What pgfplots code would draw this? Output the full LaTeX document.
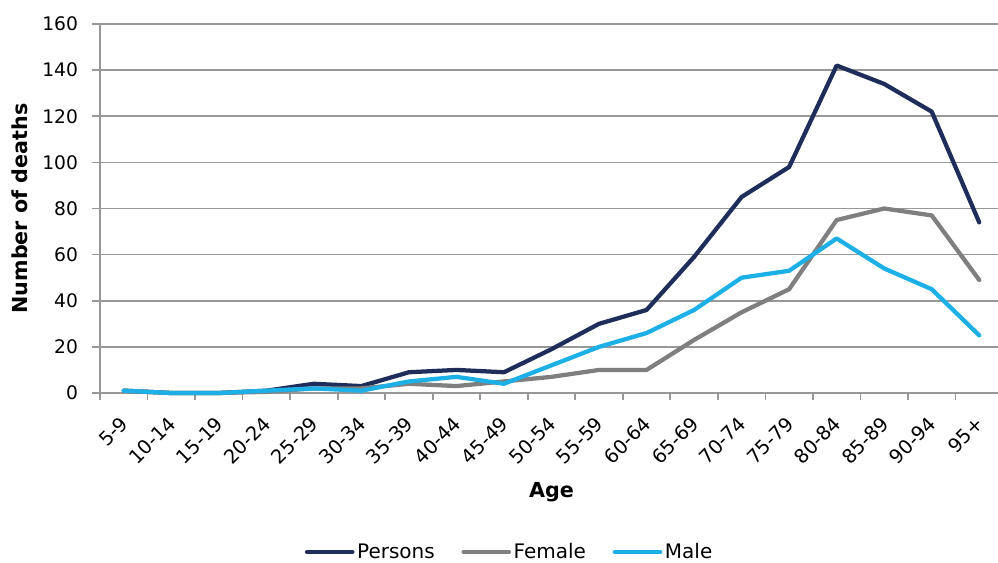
\documentclass[border=0pt]{standalone}
\usepackage{fontspec}
\setmainfont{DejaVu Sans}
\usepackage{pgfplots}
\pgfplotsset{compat=1.18}
\definecolor{persons}{HTML}{1F2D5B}
\definecolor{female}{HTML}{7F7F7F}
\definecolor{male}{HTML}{1CB0E6}
\definecolor{gridc}{HTML}{989898}
\begin{document}
\begin{tikzpicture}[x=1pt,y=1pt]
\begin{axis}[
    scale only axis,
    width=677.25pt, height=276.75pt,
    xmin=-0.5, xmax=18.5,
    ymin=0, ymax=160,
    clip=false,
    axis lines*=left,
    axis line style={draw=gridc, line width=1.3pt},
    ymajorgrids,
    grid style={draw=gridc, line width=1.3pt},
    tick align=outside,
    tick style={draw=gridc, line width=1.3pt},
    major tick length=6pt,
    minor tick length=5.25pt,
    /pgf/number format/assume math mode=true,
    xtick={0,...,18},
    xticklabels={5-9,10-14,15-19,20-24,25-29,30-34,35-39,40-44,45-49,50-54,55-59,60-64,65-69,70-74,75-79,80-84,85-89,90-94,95+},
    major x tick style={draw=none},
    minor xtick={-0.5,0.5,...,18.5},
    ytick={0,20,...,160},
    ticklabel style={font=\fontsize{14pt}{16pt}\selectfont, text=black},
    yticklabel style={xshift=-7pt},
    xticklabel style={font=\fontsize{14.5pt}{16pt}\selectfont, xshift=3pt, yshift=-12pt, rotate=45, anchor=east},
    xlabel={Age},
    ylabel={Number of deaths},
    label style={font=\fontsize{15.5pt}{18pt}\selectfont\bfseries},
    xlabel style={at={([yshift=-74.25pt]axis description cs:0.5,0)}, anchor=center},
    ylabel style={at={([xshift=-60pt]axis description cs:0,0.5)}, anchor=center},
    legend style={at={(0.454,-0.4309)}, anchor=center, draw=none, fill=none,
        font=\fontsize{15pt}{17pt}\selectfont, legend columns=-1,
        /tikz/every even column/.append style={column sep=18pt},
        /tikz/every odd column/.append style={column sep=0pt}},
    legend image code/.code={\draw[#1, line cap=round] (0pt,0pt) -- (34pt,0pt);},
    every axis plot/.append style={line width=3.2pt, line join=round, line cap=round},
]
\addplot[persons] coordinates {
(0,1) (1,0) (2,0) (3,1) (4,4) (5,3) (6,9) (7,10) (8,9) (9,19)
(10,30) (11,36) (12,59) (13,85) (14,98) (15,142) (16,134) (17,122) (18,74)};
\addplot[female] coordinates {
(0,1) (1,0) (2,0) (3,0.5) (4,2) (5,2) (6,4) (7,3) (8,5) (9,7)
(10,10) (11,10) (12,23) (13,35) (14,45) (15,75) (16,80) (17,77) (18,49)};
\addplot[male] coordinates {
(0,1) (1,0) (2,0) (3,1) (4,2) (5,1) (6,5) (7,7) (8,4) (9,12)
(10,20) (11,26) (12,36) (13,50) (14,53) (15,67) (16,54) (17,45) (18,25)};
\legend{Persons, Female, Male}
\end{axis}
\pgfresetboundingbox
\path ([shift={(-75pt,-127.5pt)}]current axis.south west) rectangle ([shift={(-3.75pt,18pt)}]current axis.north east);
\end{tikzpicture}
\end{document}
